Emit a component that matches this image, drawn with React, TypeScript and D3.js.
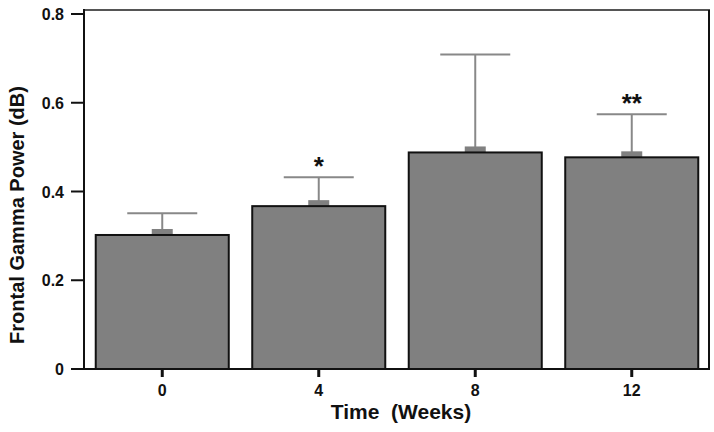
import React from "react";
import * as d3 from "d3";

const categories = ["0", "4", "8", "12"];
const means = [0.302, 0.367, 0.488, 0.477];
const upperErr = [0.351, 0.432, 0.709, 0.574];
const stars = ["", "*", "", "**"];
const yTicks = [0, 0.2, 0.4, 0.6, 0.8];

const W = 714;
const H = 432;
const left = 84;
const right = 710;
const top = 10;
const bottom = 369;
const font = "'Liberation Sans', Arial, Helvetica, sans-serif";

export default function App() {
  const x = d3
    .scaleBand<string>()
    .domain(categories)
    .range([left, right])
    .paddingInner(0.15)
    .paddingOuter(0.075);
  const y = d3.scaleLinear().domain([0, 0.8]).range([bottom, 14]);
  const bw = x.bandwidth();
  const fmt = (v: number) => (v === 0 ? "0" : d3.format(".1f")(v));

  return (
    <svg
      width={W}
      height={H}
      style={{ position: "absolute", left: 0, top: 0, background: "#fff" }}
    >
      {/* frame */}
      <line x1={left} x2={right} y1={top} y2={top} stroke="#555" strokeWidth={2} />
      <line x1={right - 1} x2={right - 1} y1={top} y2={bottom} stroke="#111" strokeWidth={2} />

      {/* bars */}
      {categories.map((c, i) => {
        const cx = (x(c) as number) + bw / 2;
        return (
          <g key={c}>
            <line
              x1={cx}
              x2={cx}
              y1={y(means[i])}
              y2={y(upperErr[i])}
              stroke="#888"
              strokeWidth={2}
            />
            <line
              x1={cx - 35}
              x2={cx + 35}
              y1={y(upperErr[i])}
              y2={y(upperErr[i])}
              stroke="#888"
              strokeWidth={2}
            />
            <rect
              x={cx - 10.5}
              y={y(means[i]) - 6}
              width={21}
              height={7}
              fill="#808080"
            />
            <rect
              x={x(c) as number}
              y={y(means[i])}
              width={bw}
              height={bottom - y(means[i])}
              fill="#808080"
              stroke="#111"
              strokeWidth={2}
            />
            {stars[i] && (
              <text
                x={cx}
                y={y(upperErr[i]) - 2}
                textAnchor="middle"
                fontFamily={font}
                fontWeight="bold"
                fontSize={26}
                fill="#111"
              >
                {stars[i]}
              </text>
            )}
            <line
              x1={cx}
              x2={cx}
              y1={bottom}
              y2={bottom + 8}
              stroke="#111"
              strokeWidth={3}
            />
            <text
              x={cx}
              y={bottom + 27}
              textAnchor="middle"
              fontFamily={font}
              fontWeight="bold"
              fontSize={16}
              fill="#111"
            >
              {c}
            </text>
          </g>
        );
      })}

      {/* axes */}
      <line x1={left} x2={right} y1={bottom} y2={bottom} stroke="#111" strokeWidth={2} />
      <line x1={left} x2={left} y1={top - 1} y2={bottom + 1} stroke="#111" strokeWidth={2} />
      {yTicks.map((t) => (
        <g key={t}>
          <line x1={left - 13} x2={left} y1={y(t)} y2={y(t)} stroke="#111" strokeWidth={2} />
          <text
            x={left - 20}
            y={y(t) + 6}
            textAnchor="end"
            fontFamily={font}
            fontWeight="bold"
            fontSize={16}
            fill="#111"
          >
            {fmt(t)}
          </text>
        </g>
      ))}

      <text
        transform={`translate(24,${(87 + 343) / 2}) rotate(-90)`}
        textAnchor="middle"
        fontFamily={font}
        fontWeight="bold"
        fontSize={20}
        fill="#111"
      >
        Frontal Gamma Power (dB)
      </text>
      <text
        x={401}
        y={419}
        textAnchor="middle"
        fontFamily={font}
        fontWeight="bold"
        fontSize={21}
        fill="#111"
        style={{ whiteSpace: "pre" }}
      >
        {"Time  (Weeks)"}
      </text>
    </svg>
  );
}
